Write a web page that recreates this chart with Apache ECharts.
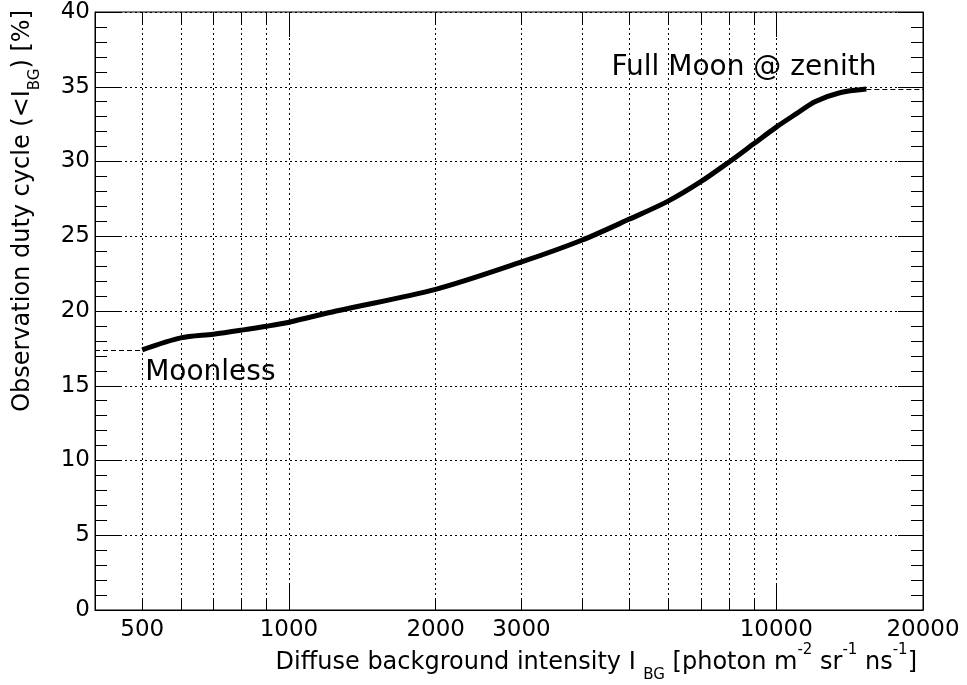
<!DOCTYPE html>
<html>
<head>
<meta charset="utf-8">
<script src="https://cdn.jsdelivr.net/npm/echarts@6/dist/echarts.min.js"></script>
<style>
html,body{margin:0;padding:0;background:#fff;}
#chart{width:967px;height:685px;}
</style>
</head>
<body>
<div id="chart"></div>
<script>
// ---- data ----
const intensity = [500, 600, 700, 800, 900, 1000, 1250, 2000, 3000, 4000, 5000, 6000, 7000, 8000, 9000, 10000, 11000, 12000, 13500, 15300];
const dutyCycle = [17.4, 18.2, 18.45, 18.72, 18.98, 19.25, 20.0, 21.45, 23.28, 24.75, 26.15, 27.35, 28.65, 29.97, 31.2, 32.3, 33.2, 34.0, 34.6, 34.85];

const gridXValues = [500, 600, 700, 800, 900, 1000, 2000, 3000, 4000, 5000, 6000, 7000, 8000, 9000, 10000];
const majorXTicks = [1000, 10000];
const xTickLabels = [500, 1000, 2000, 3000, 10000, 20000];

const xMin = 400, xMax = 20000;
const yMin = 0, yMax = 40, yStep = 5;

const moonlessLevel = 17.4;          // dashed reference (left)
const moonlessRange = [400, 500];
const fullMoonLevel = 34.85;         // dashed reference (right)
const fullMoonRange = [15300, 20000];

const annotations = [
  { text: 'Moonless', x: 507, y: 15.9 },
  { text: 'Full Moon @ zenith', x: 4590, y: 36.25 }
];

// ---- styles ----
const FONT = 'DejaVu Sans';
const LABEL_SIZE = 23;
const TITLE_SIZE = 24;
const NOTE_SIZE = 28;
const minorTickLen = 0.8;   // in y data units
const majorTickLen = 1.67;

const chart = echarts.init(document.getElementById('chart'), null, {renderer: 'canvas'});

const lineData = intensity.map((v, i) => [v, dutyCycle[i]]);

const markLines = [];
gridXValues.forEach(v => {
  markLines.push([{coord: [v, yMin], lineStyle: {type: [2, 3], color: '#000', width: 1}}, {coord: [v, yMax]}]);
  const len = majorXTicks.includes(v) ? majorTickLen : minorTickLen;
  markLines.push([{coord: [v, yMin], lineStyle: {type: 'solid', color: '#000', width: 1}}, {coord: [v, yMin + len]}]);
  markLines.push([{coord: [v, yMax], lineStyle: {type: 'solid', color: '#000', width: 1}}, {coord: [v, yMax - len]}]);
});
markLines.push([{coord: [moonlessRange[0], moonlessLevel], lineStyle: {type: [5, 3], color: '#000', width: 1}}, {coord: [moonlessRange[1], moonlessLevel]}]);
markLines.push([{coord: [fullMoonRange[0], fullMoonLevel], lineStyle: {type: [5, 3], color: '#000', width: 1}}, {coord: [fullMoonRange[1], fullMoonLevel]}]);

const markPoints = [];
xTickLabels.forEach(v => {
  markPoints.push({
    coord: [v, yMin], value: v,
    label: {show: true, position: 'bottom', distance: 9, formatter: String(v), fontFamily: FONT, fontSize: LABEL_SIZE, color: '#000'}
  });
});
annotations.forEach(a => {
  markPoints.push({
    coord: [a.x, a.y], value: a.text,
    label: {show: true, position: 'right', distance: 0, formatter: a.text, fontFamily: FONT, fontSize: NOTE_SIZE, color: '#000', align: 'left', verticalAlign: 'middle'}
  });
});

const titleRich = {
  n: {fontFamily: FONT, fontSize: TITLE_SIZE, lineHeight: 40, verticalAlign: 'middle', color: '#000'},
  sub: {fontFamily: FONT, fontSize: 15, lineHeight: 12, verticalAlign: 'bottom', color: '#000'},
  sup: {fontFamily: FONT, fontSize: 15, lineHeight: 22, verticalAlign: 'top', color: '#000'}
};

const yAxisCommon = {
  type: 'value', min: yMin, max: yMax, interval: yStep,
  axisLine: {show: true, lineStyle: {color: '#000', width: 1}},
  axisTick: {show: true, inside: true, length: 25, lineStyle: {color: '#000'}},
  minorTick: {show: true, splitNumber: 5, length: 12, lineStyle: {color: '#000'}},
  minorSplitLine: {show: false}
};

chart.setOption({
  animation: false,
  backgroundColor: '#fff',
  grid: {left: 95, right: 44, top: 12, bottom: 75, show: true, borderColor: '#000', borderWidth: 1, backgroundColor: 'transparent'},
  xAxis: {
    type: 'log', logBase: 10, min: xMin, max: xMax,
    axisLine: {show: true, lineStyle: {color: '#000'}},
    axisTick: {show: false}, axisLabel: {show: false}, splitLine: {show: false}, minorTick: {show: false}
  },
  yAxis: [
    Object.assign({}, yAxisCommon, {
      position: 'left',
      axisLabel: {show: true, fontFamily: FONT, fontSize: LABEL_SIZE, color: '#000', margin: 5},
      splitLine: {show: true, lineStyle: {type: [2, 3], color: '#000', width: 1}}
    }),
    Object.assign({}, yAxisCommon, {
      position: 'right',
      axisLabel: {show: false},
      splitLine: {show: false}
    })
  ],
  series: [
    {
      type: 'line', data: lineData, smooth: 0.3, showSymbol: false, symbol: 'none',
      lineStyle: {color: '#000', width: 5}, z: 5,
      markLine: {silent: true, symbol: ['none', 'none'], animation: false, label: {show: false}, data: markLines},
      markPoint: {silent: true, symbol: 'circle', symbolSize: 0, animation: false, data: markPoints}
    }
  ],
  graphic: [
    {
      type: 'text', x: 917, y: 663,
      style: {
        text: '{n|Diffuse background intensity I }{sub|BG}{n| [photon m}{sup|-2}{n| sr}{sup|-1}{n| ns}{sup|-1}{n|]}',
        rich: titleRich, align: 'right', verticalAlign: 'middle'
      }
    },
    {
      type: 'text', x: 23, y: 10, rotation: Math.PI / 2,
      style: {
        text: '{n|Observation duty cycle (<I}{sub|BG}{n|) [%]}',
        rich: titleRich, align: 'right', verticalAlign: 'middle'
      }
    }
  ]
});
</script>
</body>
</html>
